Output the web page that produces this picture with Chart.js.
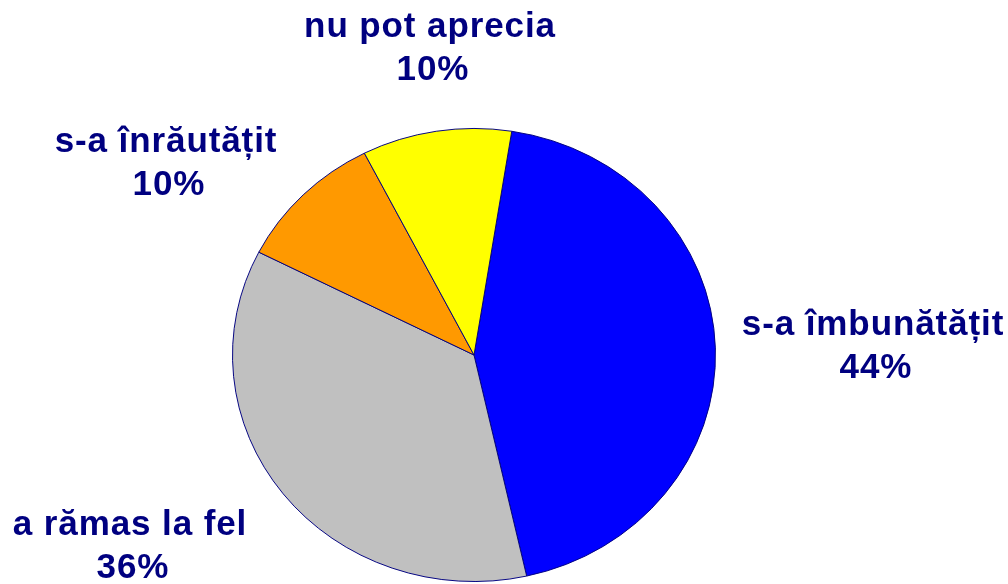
<!DOCTYPE html>
<html>
<head>
<meta charset="utf-8">
<script src="https://cdn.jsdelivr.net/npm/chart.js@4"></script>
<style>
  html, body { margin: 0; padding: 0; background: #fff; overflow: hidden; }
  #wrap { position: relative; width: 1008px; height: 620px; }
</style>
</head>
<body>
<div id="wrap"><canvas id="pie"></canvas></div>
<script>
const labels = ["s-a îmbunătățit", "a rămas la fel", "s-a înrăutățit", "nu pot aprecia"];
const values = [44, 36, 10, 10];
const colors = ["#0000ff", "#c0c0c0", "#ff9900", "#ffff00"];

// where each label block sits (centre x, baseline of first line)
const labelSpots = [
  { x: 873, y: 335 },
  { x: 130, y: 535 },
  { x: 166, y: 152 },
  { x: 430, y: 37 },
];

const squash = 227 / 242; // the pie in the picture is a bit wider than tall

const ellipse = {
  id: "ellipse",
  beforeDatasetsDraw(chart) {
    const arc = chart.getDatasetMeta(0).data[0];
    const ctx = chart.ctx;
    ctx.save();
    ctx.translate(arc.x, arc.y);
    ctx.scale(1, squash);
    ctx.translate(-arc.x, -arc.y);
  },
  afterDatasetsDraw(chart) {
    chart.ctx.restore();
  },
};

const outsideLabels = {
  id: "outsideLabels",
  afterDraw(chart) {
    const ctx = chart.ctx;
    ctx.save();
    ctx.fillStyle = "#000080";
    ctx.font = "bold 35px 'Liberation Sans', Arial, sans-serif";
    ctx.textAlign = "center";
    ctx.textBaseline = "alphabetic";
    if ("letterSpacing" in ctx) ctx.letterSpacing = "0.9px";
    labels.forEach((name, i) => {
      const spot = labelSpots[i];
      ctx.fillText(name, spot.x, spot.y);
      ctx.fillText(values[i] + "%", spot.x + 3, spot.y + 43);
    });
    ctx.restore();
  },
};

new Chart(document.getElementById("pie"), {
  type: "pie",
  data: {
    labels: labels,
    datasets: [{
      data: values,
      backgroundColor: colors,
      borderColor: "#000080",
      borderWidth: 1,
    }],
  },
  options: {
    responsive: true,
    maintainAspectRatio: false,
    animation: false,
    rotation: 9,
    layout: { padding: { left: 232, right: 292, top: 113, bottom: 23 } },
    plugins: {
      legend: { display: false },
      tooltip: { enabled: false },
    },
  },
  plugins: [ellipse, outsideLabels],
});
</script>
</body>
</html>
